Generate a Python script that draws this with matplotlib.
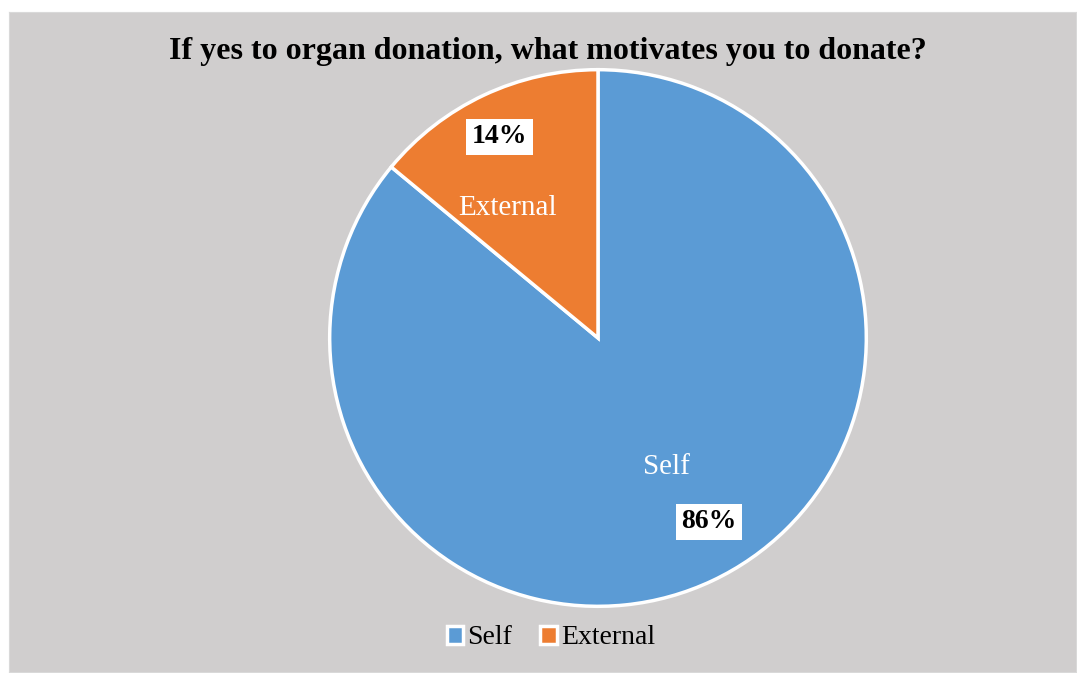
import numpy as np
import matplotlib
matplotlib.use('Agg')
import matplotlib.pyplot as plt

labels = ['Self', 'External']
values = [86, 14]
colors = ['#5B9BD5', '#ED7D31']
title = 'If yes to organ donation, what motivates you to donate?'

plt.rcParams['font.family'] = ['Liberation Serif', 'DejaVu Serif']

fig = plt.figure(figsize=(10.77, 6.73), dpi=100)
fig.patch.set_facecolor('white')

# gray chart area as a background axes
bg = fig.add_axes([9/1077, 1 - 672/673, (1076-9)/1077, (672-12)/673], zorder=-1)
bg.set_facecolor('#D0CECE')
bg.set_xticks([])
bg.set_yticks([])
for s in bg.spines.values():
    s.set_color('#D9D9D9')
    s.set_linewidth(0.8)

# pie axes: center (598,338), radius ~268 px
r = 271
ax = fig.add_axes([(598 - r)/1077, 1 - (338 + r)/673, 2*r/1077, 2*r/673])
ax.set_facecolor('none')
wedges, _ = ax.pie(values, colors=colors, startangle=90, counterclock=False,
                   wedgeprops=dict(edgecolor='white', linewidth=2.5), radius=1)
ax.set_xlim(-1.01, 1.01)
ax.set_ylim(-1.01, 1.01)
ax.set_aspect('equal')

# category names and percentages inside the slices
name_pos = {'Self': (-62.2, 0.545), 'External': (124.9, 0.59)}
pct_pos = {'Self': (-58.8, 0.80), 'External': (116.0, 0.835)}
for lab, val in zip(labels, values):
    a, d = name_pos[lab]
    ax.text(d*np.cos(np.radians(a)), d*np.sin(np.radians(a)), lab,
            ha='center', va='center', color='white', fontsize=21)
    a, d = pct_pos[lab]
    ax.text(d*np.cos(np.radians(a)), d*np.sin(np.radians(a)), f'{val}%',
            ha='center', va='center', color='black', fontsize=20, fontweight='bold',
            bbox=dict(facecolor='white', edgecolor='none', pad=4))

fig.text(548/1077, 1 - 52/673, title, ha='center', va='center',
         fontsize=23, fontweight='bold')

leg = fig.legend(wedges, labels, loc='center', bbox_to_anchor=(551/1077, 1 - 638/673),
                 ncol=2, frameon=False, fontsize=20, handlelength=0.6, handleheight=0.6,
                 handletextpad=0.15, columnspacing=1.0)
for h in leg.legend_handles:
    h.set_edgecolor('white')
    h.set_linewidth(2.5)

fig.savefig('out.png', dpi=100)
